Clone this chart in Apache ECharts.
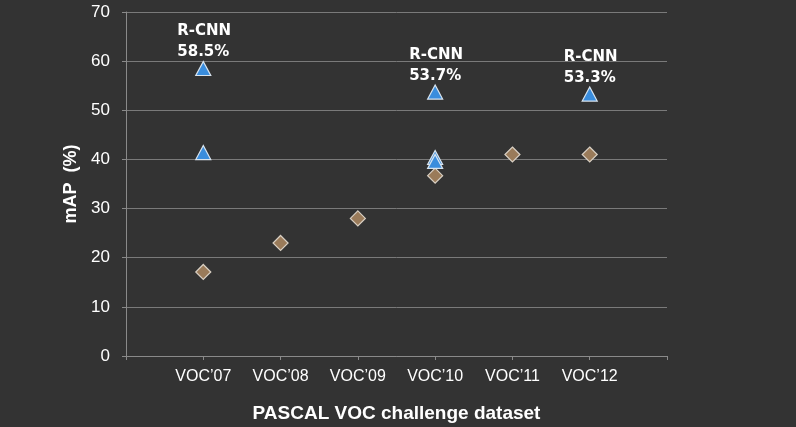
<!DOCTYPE html>
<html><head><meta charset="utf-8">
<script src="https://cdn.jsdelivr.net/npm/echarts@6/dist/echarts.min.js"></script>
<style>html,body{margin:0;padding:0;background:#333333;}#c{width:796px;height:427px;}</style>
</head><body><div id="c"></div>
<script>
var categories = ["", "VOC\u201907", "VOC\u201908", "VOC\u201909", "VOC\u201910", "VOC\u201911", "VOC\u201912", ""];
var yTicks = [0, 10, 20, 30, 40, 50, 60, 70];
// triangle points: [category, value, label]
var triCats = ["VOC\u201907", "VOC\u201907", "VOC\u201910", "VOC\u201910", "VOC\u201910", "VOC\u201912"];
var triVals = [58.5, 41.4, 53.7, 40.4, 39.6, 53.3];
var triLabels = ["R-CNN\n58.5%", "", "R-CNN\n53.7%", "", "", "R-CNN\n53.3%"];
// diamond points
var diaCats = ["VOC\u201907", "VOC\u201908", "VOC\u201909", "VOC\u201910", "VOC\u201911", "VOC\u201912"];
var diaVals = [17.1, 23.0, 28.0, 36.7, 41.0, 41.0];

var triData = triCats.map(function (c, i) {
  var d = { value: [c, triVals[i]] };
  if (triLabels[i]) {
    d.label = { show: true, formatter: triLabels[i] };
  }
  return d;
});
var diaData = diaCats.map(function (c, i) { return [c, diaVals[i]]; });

var chart = echarts.init(document.getElementById('c'));
chart.setOption({
  backgroundColor: '#333333',
  animation: false,
  grid: { left: 126, right: 129, top: 12, bottom: 71, containLabel: false, outerBoundsMode: 'none' },
  xAxis: {
    type: 'category',
    data: categories,
    boundaryGap: false,
    name: 'PASCAL VOC challenge dataset',
    nameLocation: 'middle',
    nameGap: 48,
    nameTextStyle: { color: '#ffffff', fontSize: 19, fontWeight: 'bold', fontFamily: 'Liberation Sans' },
    axisLine: { lineStyle: { color: '#8a8a8a', width: 1 } },
    axisTick: { show: true, length: 4, alignWithLabel: true, lineStyle: { color: '#8a8a8a' } },
    axisLabel: { color: '#ffffff', fontSize: 16, fontFamily: 'Liberation Sans', margin: 13, interval: 0 },
    splitLine: { show: false }
  },
  yAxis: {
    type: 'value',
    min: yTicks[0],
    max: yTicks[yTicks.length - 1],
    interval: 10,
    name: 'mAP  (%)',
    nameLocation: 'middle',
    nameGap: 45,
    nameTextStyle: { color: '#ffffff', fontSize: 18, fontWeight: 'bold', fontFamily: 'Liberation Sans' },
    axisLine: { show: true, lineStyle: { color: '#8a8a8a', width: 1 } },
    axisTick: { show: true, length: 4, lineStyle: { color: '#8a8a8a' } },
    axisLabel: { color: '#ffffff', fontSize: 17, fontFamily: 'Liberation Sans', margin: 16 },
    splitLine: { show: true, lineStyle: { color: '#7a7a7a', width: 1 } }
  },
  series: [
    {
      type: 'scatter',
      data: diaData,
      symbol: 'diamond',
      symbolSize: [15, 15],
      itemStyle: { color: '#9a7b5a', borderColor: '#d9d0c4', borderWidth: 1.2, opacity: 1 },
      z: 2
    },
    {
      type: 'scatter',
      data: triData,
      symbol: 'triangle',
      symbolSize: [15, 14],
      itemStyle: { color: '#3a8ddd', borderColor: '#d8e4ef', borderWidth: 1.2, opacity: 1 },
      label: {
        show: false,
        position: 'top',
        distance: 3,
        color: '#ffffff',
        fontSize: 15,
        fontWeight: 'bold',
        fontFamily: 'DejaVu Sans',
        lineHeight: 21,
        align: 'left',
        offset: [-26, 5]
      },
      z: 3
    }
  ]
});
</script></body></html>
